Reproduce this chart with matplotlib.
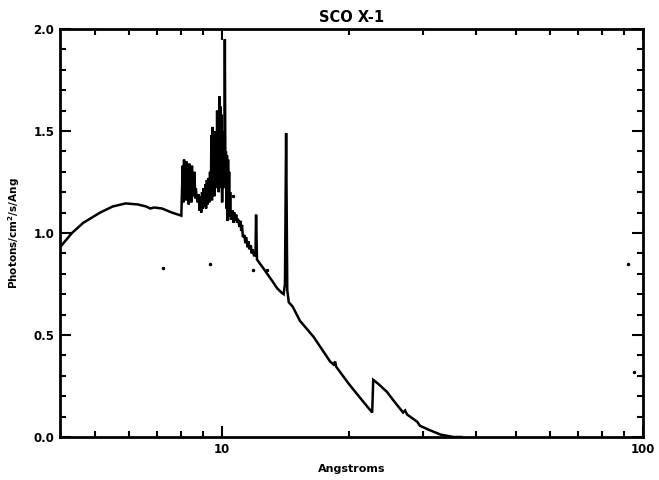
import matplotlib
matplotlib.use("Agg")
import matplotlib.pyplot as plt
from matplotlib.ticker import FixedLocator, MultipleLocator, NullFormatter, FuncFormatter

# smooth continuum below the edge
wave_lo = [4.12, 4.4, 4.68, 5.13, 5.5, 5.9, 6.3, 6.6, 6.75, 6.9, 7.2, 7.6, 8.0]
flux_lo = [0.93, 1.00, 1.05, 1.10, 1.13, 1.145, 1.14, 1.13, 1.12, 1.125, 1.12, 1.10, 1.085]

# crowded line region around 8-10.5 Angstrom
wave_mid = [8.03, 8.06, 8.09, 8.12, 8.15, 8.18, 8.21, 8.24, 8.27, 8.30, 8.33, 8.36,
            8.39, 8.42, 8.45, 8.48, 8.51, 8.54, 8.57, 8.60, 8.63, 8.66, 8.70, 8.75,
            8.80, 8.84, 8.88, 8.92, 8.96, 9.00, 9.04, 9.08, 9.12, 9.16, 9.20, 9.24,
            9.28, 9.32, 9.36, 9.40, 9.43, 9.46, 9.49, 9.52, 9.55, 9.58, 9.61, 9.64,
            9.67, 9.70, 9.73, 9.76, 9.79, 9.82, 9.85, 9.88, 9.91, 9.94, 9.97, 10.00,
            10.03, 10.06, 10.09, 10.12, 10.15, 10.18, 10.21, 10.24, 10.27, 10.30,
            10.33, 10.36, 10.39, 10.42, 10.45, 10.48]
flux_mid = [1.20, 1.33, 1.15, 1.36, 1.20, 1.30, 1.16, 1.35, 1.22, 1.32, 1.14, 1.34,
            1.19, 1.31, 1.15, 1.33, 1.18, 1.29, 1.20, 1.30, 1.17, 1.22, 1.18, 1.15,
            1.19, 1.11, 1.18, 1.10, 1.20, 1.12, 1.22, 1.13, 1.24, 1.12, 1.26, 1.14,
            1.27, 1.15, 1.30, 1.17, 1.48, 1.16, 1.52, 1.20, 1.45, 1.18, 1.50, 1.24,
            1.40, 1.22, 1.60, 1.26, 1.55, 1.20, 1.67, 1.30, 1.62, 1.22, 1.58, 1.15,
            1.50, 1.28, 1.45, 1.22, 1.95, 1.30, 1.40, 1.12, 1.38, 1.06, 1.36, 1.10,
            1.30, 1.08, 1.20, 1.07]

# decline with the two lines and the edge near 23 Angstrom
wave_hi = [10.55, 10.6, 10.65, 10.7, 10.75, 10.8, 10.85, 10.9, 11.0, 11.05, 11.1, 11.15,
           11.2, 11.3, 11.35, 11.4, 11.5, 11.55, 11.6, 11.7, 11.75, 11.8, 11.9, 12.0,
           12.04, 12.1, 12.3, 12.6, 12.9, 13.2, 13.5, 13.8, 14.0, 14.1,
           14.19, 14.28, 14.4, 14.7, 15.3, 16.5, 18.05, 18.4, 18.55, 18.65, 20.0, 21.5,
           22.72, 22.85, 23.5, 24.66, 25.5, 26.9, 27.2, 27.5, 29.05, 29.5, 31.0, 33.0, 35.4, 37.0]
flux_hi = [1.07, 1.11, 1.05, 1.10, 1.06, 1.09, 1.05, 1.07, 1.03, 1.06, 1.01, 1.04,
           0.98, 0.99, 0.95, 0.98, 0.93, 0.96, 0.92, 0.94, 0.90, 0.92, 0.89, 0.89,
           1.09, 0.87, 0.85, 0.82, 0.79, 0.76, 0.73, 0.71, 0.70, 0.75,
           1.49, 0.72, 0.66, 0.64, 0.57, 0.49, 0.37, 0.355, 0.37, 0.345, 0.26, 0.18,
           0.12, 0.28, 0.26, 0.22, 0.18, 0.12, 0.13, 0.11, 0.075, 0.055, 0.035, 0.012, 0.0, 0.0]

# isolated specks scattered around the plot
speck_wave = [7.24, 9.36, 10.6, 11.85, 12.79, 92.0, 95.0]
speck_flux = [0.83, 0.85, 1.18, 0.82, 0.82, 0.85, 0.32]

wave = wave_lo + wave_mid + wave_hi
flux = flux_lo + flux_mid + flux_hi

plt.rcParams["font.family"] = "DejaVu Sans"
plt.rcParams["font.weight"] = "bold"

fig = plt.figure(figsize=(6.59, 4.8), dpi=100)
ax = fig.add_axes([0.091, 0.0896, 0.885, 0.850])
ax.plot(wave, flux, color="black", lw=1.8, solid_joinstyle="miter")
ax.plot(speck_wave, speck_flux, ls="none", marker="o", ms=1.5, color="black")

ax.set_xscale("log")
ax.set_xlim(4.12, 100)
ax.set_ylim(0, 2.0)

ax.xaxis.set_major_locator(FixedLocator([10, 100]))
ax.xaxis.set_major_formatter(FuncFormatter(lambda v, p: f"{v:.0f}"))
ax.xaxis.set_minor_locator(FixedLocator([5, 6, 7, 8, 9, 20, 30, 40, 50, 60, 70, 80, 90]))
ax.xaxis.set_minor_formatter(NullFormatter())
ax.yaxis.set_major_locator(MultipleLocator(0.5))
ax.yaxis.set_major_formatter(FuncFormatter(lambda v, p: f"{v:.1f}"))
ax.yaxis.set_minor_locator(MultipleLocator(0.1))

ax.tick_params(which="both", direction="in", top=True, right=True, width=1.5,
               labelsize=8.5, pad=4)
ax.tick_params(which="major", length=8)
ax.tick_params(which="minor", length=4)
for s in ax.spines.values():
    s.set_linewidth(2)

ax.set_title("SCO X-1", fontsize=10.5, fontweight="bold", pad=5)
ax.set_xlabel("Angstroms", fontsize=8, fontweight="bold", labelpad=6)
ax.set_ylabel("Photons/cm$^2$/s/Ang", fontsize=7.5, fontweight="bold", labelpad=8)

fig.savefig("out.png", dpi=100, facecolor="white")
